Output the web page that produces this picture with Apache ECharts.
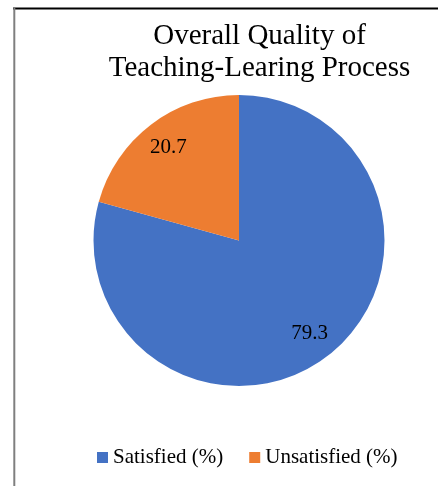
<!DOCTYPE html>
<html>
<head>
<meta charset="utf-8">
<script src="https://cdn.jsdelivr.net/npm/echarts@6/dist/echarts.min.js"></script>
<style>html,body{margin:0;padding:0;background:#fff;}#chart{width:438px;height:486px;}</style>
</head>
<body>
<div id="chart"></div>
<script>
var titleLines = ['Overall Quality of', 'Teaching-Learing Process'];
var categories = ['Satisfied (%)', 'Unsatisfied (%)'];
var values = [79.3, 20.7];
var colors = ['#4472C4', '#ED7D31'];

var serif = '"Liberation Serif", "Times New Roman", serif';
var data = categories.map(function (c, i) {
  return { name: c, value: values[i], itemStyle: { color: colors[i] } };
});

var chart = echarts.init(document.getElementById('chart'), null, { renderer: 'canvas' });
chart.setOption({
  animation: false,
  backgroundColor: '#fff',
  title: {
    text: titleLines.join('\n'),
    left: 259.5,
    top: 20,
    padding: 0,
    textAlign: 'center',
    textStyle: { fontFamily: serif, fontSize: 29, fontWeight: 'normal', color: '#000', lineHeight: 32 }
  },
  legend: {
    data: categories,
    left: 97,
    top: 447,
    padding: 0,
    icon: 'rect',
    itemWidth: 11,
    itemHeight: 11,
    itemGap: 26,
    textStyle: { fontFamily: serif, fontSize: 21, color: '#000' }
  },
  graphic: [
    { type: 'line', shape: { x1: 13, y1: 8.5, x2: 438, y2: 8.5 }, style: { stroke: '#000', lineWidth: 2 }, silent: true },
    { type: 'line', shape: { x1: 14.3, y1: 8, x2: 14.3, y2: 486 }, style: { stroke: '#7f7f7f', lineWidth: 2 }, silent: true }
  ],
  series: [
    {
      type: 'pie',
      center: [239, 240.5],
      radius: 145.5,
      startAngle: 90,
      clockwise: true,
      label: { show: false },
      labelLine: { show: false },
      emphasis: { disabled: true },
      data: data
    },
    {
      type: 'pie',
      center: [239, 240.5],
      radius: [82, 145.5],
      startAngle: 90,
      clockwise: true,
      silent: true,
      itemStyle: { color: 'rgba(0,0,0,0)' },
      label: { show: true, position: 'inside', fontFamily: serif, fontSize: 21, color: '#000', formatter: '{c}' },
      labelLine: { show: false },
      emphasis: { disabled: true },
      data: categories.map(function (c, i) { return { name: c, value: values[i] }; })
    }
  ]
});
</script>
</body>
</html>
